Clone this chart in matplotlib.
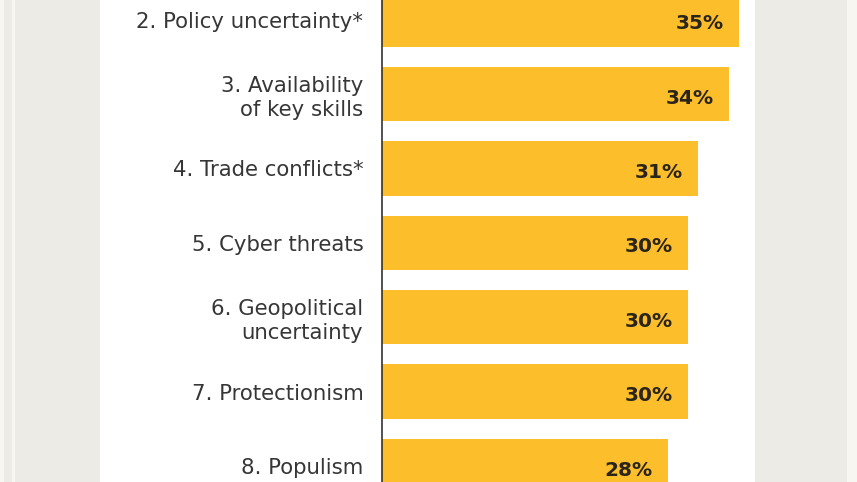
import numpy as np
import matplotlib.pyplot as plt
from matplotlib.patches import Rectangle

labels = ['2. Policy uncertainty*', '3. Availability\nof key skills', '4. Trade conflicts*',
          '5. Cyber threats', '6. Geopolitical\nuncertainty', '7. Protectionism', '8. Populism']
values = [35, 34, 31, 30, 30, 30, 28]

W, H = 857, 482
fig = plt.figure(figsize=(W / 100, H / 100), dpi=100)
fig.patch.set_facecolor('#edebe5')

# white panel and light edge strips
fig.patches.append(Rectangle((100 / W, 0), 655 / W, 1, transform=fig.transFigure,
                             facecolor='white', edgecolor='none', zorder=-1))
for x0, w in [(0, 4), (12, 3), (847, 5), (852, 5)]:
    fig.patches.append(Rectangle((x0 / W, 0), w / W, 1, transform=fig.transFigure,
                                 facecolor='#f7f6f1', edgecolor='none', zorder=-1))

ax = fig.add_axes([382 / W, 0, 373 / W, 1])
ax.set_zorder(2)
ax.patch.set_alpha(0)

y = np.arange(len(values))
ax.barh(y, values, height=0.73, color='#fdbe2c', edgecolor='none')

for yi, v in zip(y, values):
    ax.annotate(f'{v}%', (v, yi), xytext=(-11, -3), textcoords='offset points',
                ha='right', va='center', fontsize=14.5, fontweight='bold',
                color='#2b2519', family='DejaVu Sans')

ax.set_xlim(0, 373 / 10.2)
ax.set_ylim(6.215, -0.263)

ax.set_yticks(y)
ax.set_yticklabels(labels, fontsize=15.3, color='#363636', family='DejaVu Sans')
for t in ax.get_yticklabels():
    t.set_linespacing(1.25)
ax.tick_params(axis='y', length=0, pad=13.5)
ax.set_xticks([])

for s in ['top', 'right', 'bottom']:
    ax.spines[s].set_visible(False)
ax.spines['left'].set_color('#222222')
ax.spines['left'].set_linewidth(1.1)

plt.savefig('out.png', dpi=100)
